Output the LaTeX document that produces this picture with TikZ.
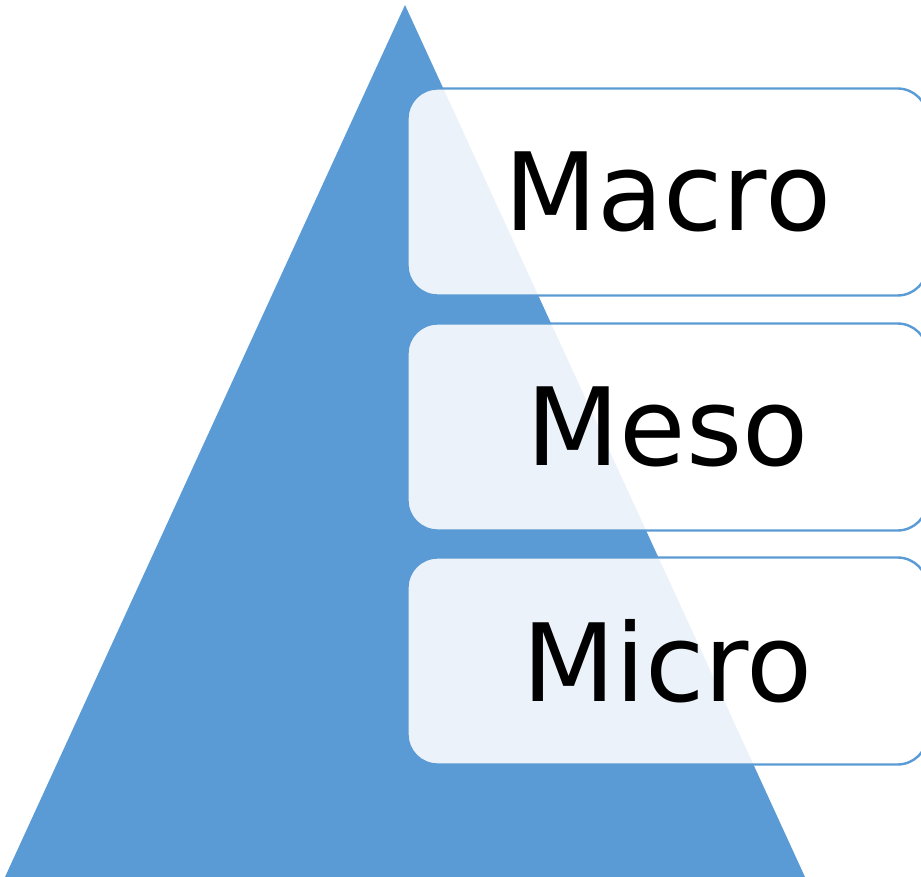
\documentclass[tikz,border=0pt]{standalone}
\usepackage{fontspec}
\setmainfont{DejaVu Sans}
\usepackage{xcolor}
\usetikzlibrary{arrows,shapes,calc,positioning}
\definecolor{pyrblue}{HTML}{5B9BD5}

\begin{document}
\begin{tikzpicture}[x=1pt, y=-1pt]
		\tikzstyle{every node}=[font=\fontsize{108}{120}\selectfont]
		\tikzstyle{level}=[draw=pyrblue, line width=2.4pt, fill=white, fill opacity=0.88, text opacity=1, rounded corners=30pt, minimum width=520pt, minimum height=207pt, inner sep=0pt]
		\useasboundingbox (0,0) rectangle (921,877);
		\fill [pyrblue] (405,5) -- (805,877) -- (5,877) -- cycle;
		\node [level] (macro) at (667.5,192) {Macro};
		\node [level] (meso) at (667.5,427) {Meso};
		\node [level] (micro) at (667.5,661) {Micro};
		\end{tikzpicture}
\end{document}
